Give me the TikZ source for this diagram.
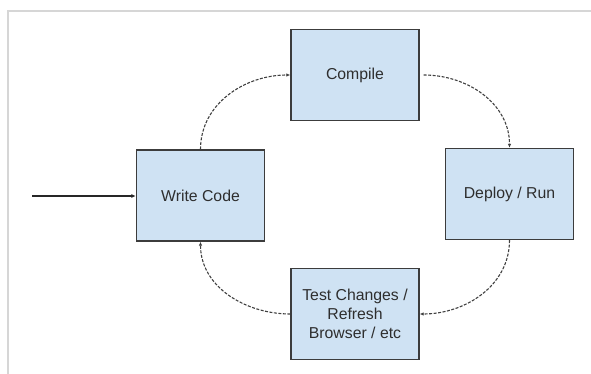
\documentclass[tikz,border=0pt]{standalone}
\usepackage{fontspec}
\setmainfont{Liberation Sans}
\usetikzlibrary{arrows.meta}
\definecolor{boxfill}{HTML}{CFE2F3}
\definecolor{boxline}{HTML}{3C3C3C}
\definecolor{txt}{HTML}{2E2E2E}
\definecolor{framegray}{HTML}{D6D6D6}
\begin{document}
\begin{tikzpicture}[x=1pt,y=-1pt,
  stagebox/.style={draw=boxline, line width=1.4pt, fill=boxfill, text=txt,
    minimum width=128pt, minimum height=91pt, inner sep=0pt, align=center,
    font=\fontsize{15.8}{19}\selectfont},
  loop/.style={draw=black!75, line width=1.1pt, dash pattern=on 3pt off 1.5pt,
    -{Latex[length=4pt,width=3.5pt]}},
  feed/.style={draw=black!85, line width=1.3pt, -{Latex[length=4.5pt,width=4pt]}}]
  \useasboundingbox (0,0) rectangle (591,374);
  % page frame
  \draw[framegray, line width=1.5pt] (591,11) -- (8,11) -- (8,374);
  % stages
  \node[stagebox] (compile) at (355,75)   {Compile};
  \node[stagebox] (write)   at (200.5,195.5) {Write Code};
  \node[stagebox] (deploy)  at (509.5,194) {Deploy / Run};
  \node[stagebox] (test)    at (355,314)  {Test Changes /\\Refresh\\Browser / etc};
  % entry arrow
  \coordinate (start) at (32,196);
  \draw[feed] (start) -- (write.west |- start);
  % development loop
  \draw[loop] (write.north) to[out=90,in=180] (compile.west);
  \draw[loop] ([xshift=4pt]compile.east) to[out=0,in=90] (deploy.north);
  \draw[loop] (deploy.south) to[out=-90,in=0] (test.east);
  \draw[loop] (test.west) to[out=180,in=-90] (write.south);
\end{tikzpicture}
\end{document}
